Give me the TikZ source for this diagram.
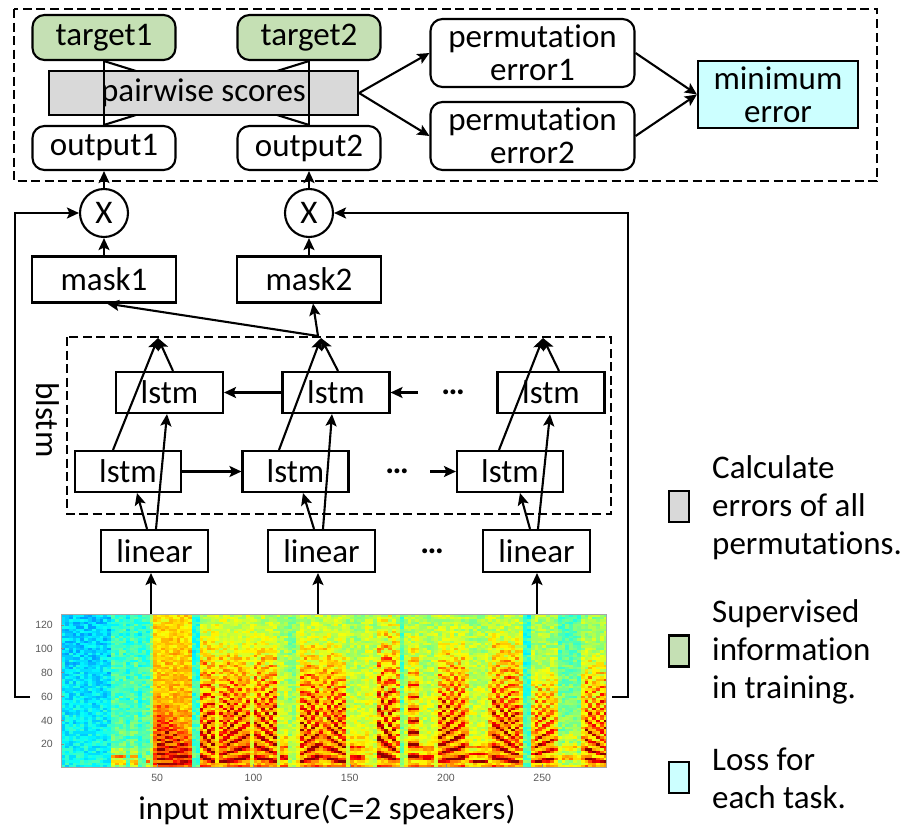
\documentclass[tikz,border=0pt]{standalone}
\usepackage{fontspec}
\setmainfont{Carlito}[Ligatures={NoCommon,NoContextual}]
\newfontfamily\ticksf{Liberation Sans}
\usetikzlibrary{arrows.meta,calc}

\definecolor{tgtgreen}{HTML}{C5E0B4}
\definecolor{scoregray}{HTML}{D9D9D9}
\definecolor{losscyan}{HTML}{CCFFFF}

\newcommand\dfont{\fontsize{33}{33}\selectfont}
\newcommand\legfont{\fontsize{33}{38}\selectfont}
\newcommand\tickfont{\ticksf\fontsize{10.5}{12}\selectfont}

% spectrogram segments:
% t0/t1/background/strength/harmonic spacing/spacing slope/top frequency/top-frequency fall
\def\speclist{0/26/0.39/0/10/0/50/0, 26/34/0.48/0.4/5/0/20/0, 34/36/0.45/0/10/0/50/0,
 36/41/0.49/0.38/5/0/20/0, 41/43/0.45/0/10/0/50/0, 43/46/0.48/0.45/6/0/12/0,
 46/48/0.55/0/10/0/50/0, 48/69/0.72/0.36/4.6/0.4/75/0.7, 69/72/0.46/0/10/0/50/0,
 72/81/0.63/0.42/8/-0.6/120/0, 81/99/0.65/0.40/7.5/0.6/110/0.1, 99/113/0.63/0.40/8/-0.5/115/0,
 113/119/0.60/0.38/9/0/30/0, 119/123/0.56/0/10/0/50/0, 123/136/0.63/0.42/8/0.6/115/0,
 136/149/0.63/0.42/7.5/-0.5/120/0.2, 149/158/0.60/0.38/9/0/30/0, 158/163/0.63/0/10/0/50/0,
 163/176/0.60/0.46/10/-0.7/140/0, 176/179/0.50/0/10/0/50/0, 179/186/0.60/0.42/10/0/120/0,
 186/195/0.60/0.35/9/0/26/0, 195/212/0.62/0.42/8/0.5/115/0, 212/222/0.60/0.38/6/0/24/0,
 222/240/0.62/0.42/7.5/-0.7/120/0, 240/244/0.47/0/10/0/50/0, 244/258/0.60/0.42/7/0.4/85/0,
 258/270/0.52/0.25/9/0/35/0, 270/285/0.60/0.42/7/-0.5/100/0}

\begin{document}
\begin{tikzpicture}[x=1pt,y=-1pt,
  every node/.style={font=\dfont, inner sep=0pt},
  plainbox/.style={draw, line width=2.1pt},
  roundbox/.style={plainbox, rounded corners=12pt},
  link/.style={line width=2.1pt},
  arr/.style={line width=2.1pt, -{Stealth[length=12pt,width=11pt,inset=2.5pt]}},
  dashbox/.style={line width=2.1pt, dash pattern=on 9pt off 4.5pt},
  mult/.style={draw, circle, line width=2.1pt, minimum size=48pt},
  legbox/.style={plainbox, minimum width=20pt, minimum height=31pt},
  tick/.style={font=\tickfont, text=black!65}]
\useasboundingbox (0,0) rectangle (906,835);

% ---------- jet colour table ----------
\foreach \i in {0,...,47}{
  \pgfmathsetmacro\vv{(\i+0.5)/48}
  \pgfmathsetmacro\cR{max(0,min(1,1.5-abs(4*\vv-3)))}
  \pgfmathsetmacro\cG{max(0,min(1,1.5-abs(4*\vv-2)))}
  \pgfmathsetmacro\cB{max(0,min(1,1.5-abs(4*\vv-1)))}
  \xglobal\definecolor{jet\i}{rgb}{\cR,\cG,\cB}
}

% ---------- spectrogram ----------
\pgfmathsetseed{7}
\begin{scope}
\clip (61,614) rectangle (606,767);
\foreach \col in {0,...,141}{
  \pgfmathsetmacro\colt{2*\col+1}
  \foreach \ta/\tb/\tbg/\ts/\tp/\tk/\tF/\tfall in \speclist{
    \ifdim\colt pt<\ta pt\relax\else\ifdim\colt pt<\tb pt\relax
      \xdef\Sa{\ta}\xdef\Sb{\tb}\xdef\Sbg{\tbg}\xdef\Ss{\ts}%
      \xdef\Sp{\tp}\xdef\Sk{\tk}\xdef\SF{\tF}\xdef\Sfall{\tfall}%
    \fi\fi
  }
  \pgfmathsetmacro\uu{(\colt-\Sa)/(\Sb-\Sa)}
  \pgfmathsetmacro\EE{\Ss*min(1,2.5*sin(180*\uu))}
  \pgfmathsetmacro\QQ{360/(\Sp*(1+\Sk*(\uu-0.5)))}
  \pgfmathsetmacro\FF{\SF*(1-\Sfall*\uu)}
  \pgfmathsetmacro\xx{61+3.85*\col}
  \foreach \ff in {2,4,...,128}{
    \ifdim\EE pt>0pt
      \pgfmathsetmacro\hh{0.5+0.5*cos(\QQ*\ff)}
      \pgfmathtruncatemacro\lv{max(0,min(47,48*(\Sbg-0.0005*\ff+0.12*(rnd-0.5)+\EE*(0.15+0.85*\hh*\hh)*max(0,1-(\ff/\FF)*(\ff/\FF)))))}
    \else
      \pgfmathtruncatemacro\lv{max(0,min(47,48*(\Sbg-0.0005*\ff+0.12*(rnd-0.5))))}
    \fi
    \fill[jet\lv] (\xx,{767.3-1.195*(\ff-2)}) rectangle ++(4.3,-2.8);
  }
}
\end{scope}
\node[draw=black!35, line width=0.5pt, minimum width=545pt, minimum height=153pt] (spec) at (333.5,690.5) {};

% axis ticks and labels
\foreach \f in {20,40,...,120}{
  \draw[black!45, line width=0.4pt] (61,{767-1.195*(\f-1)}) -- ++(3,0);
  \node[tick, anchor=east] (yl\f) at (53,{767-1.195*(\f-1)}) {\f};
}
\foreach \t in {50,100,...,250}{
  \draw[black!45, line width=0.4pt] ({61+1.925*\t},767) -- ++(0,-3);
  \node[tick] (xl\t) at ({61+1.925*\t},778) {\t};
}
\node (cap) at (327,810) {input mixture(C=2 speakers)};

% ---------- permutation-invariant training block ----------
\draw[dashbox] (14,9) rectangle (877,181);
\node[roundbox, fill=tgtgreen, minimum width=143pt, minimum height=45pt] (t1) at (104,37.5) {target1};
\node[roundbox, fill=tgtgreen, minimum width=143pt, minimum height=45pt] (t2) at (309,37.5) {target2};
\node[roundbox, minimum width=143pt, minimum height=44pt] (o1) at (104,148) {output1};
\node[roundbox, minimum width=143pt, minimum height=44pt] (o2) at (309,148) {output2};
\draw[link] (t1.south) -- (o2.north);
\draw[link] (t2.south) -- (o1.north);
\node[plainbox, fill=scoregray, minimum width=309pt, minimum height=44pt] (pw) at (203.5,93) {pairwise scores};
\draw[link] (t1.south) -- (o1.north);
\draw[link] (t2.south) -- (o2.north);

\node[roundbox, align=center, minimum width=204pt, minimum height=68pt] (p1) at (532.5,53) {permutation\\error1};
\node[roundbox, align=center, minimum width=204pt, minimum height=68pt] (p2) at (532.5,136) {permutation\\error2};
\node[plainbox, fill=losscyan, align=center, minimum width=160pt, minimum height=67pt] (me) at (778,94.5) {minimum\\error};
\draw[arr] (pw.east) -- (p1.west);
\draw[arr] (pw.east) -- (p2.west);
\draw[arr] (p1.east) -- (me.west);
\draw[arr] (p2.east) -- (me.west);

% ---------- masking ----------
\node[mult] (m1) at (104,213) {X};
\node[mult] (m2) at (309,213) {X};
\node[plainbox, minimum width=144pt, minimum height=46pt] (k1) at (104,279.5) {mask1};
\node[plainbox, minimum width=144pt, minimum height=46pt] (k2) at (309,279.5) {mask2};
\draw[arr] (m1) -- (o1);
\draw[arr] (m2) -- (o2);
\draw[arr] (k1) -- (m1);
\draw[arr] (k2) -- (m2);
\coordinate (J) at (318,336);
\draw[arr] (J) -- ([xshift=3pt]k1.south);
\draw[arr] (J) -- ([xshift=4pt]k2.south);

% mixture fed back to the multipliers
\coordinate (fbL) at (30,697);
\coordinate (fbR) at (612,697);
\draw[arr] (fbL) -- (15,697) |- (m1);
\draw[arr] (fbR) -- (628,697) |- (m2);

% ---------- bidirectional lstm ----------
\draw[dashbox] (67,337) rectangle (611,514);
\node[rotate=-90] (bl) at (48,420) {blstm};

\node[plainbox, minimum width=107pt, minimum height=41pt] (u1) at (169.5,392.5) {lstm};
\node[plainbox, minimum width=107pt, minimum height=41pt] (u2) at (336,392.5) {lstm};
\node[plainbox, minimum width=107pt, minimum height=41pt] (u3) at (551,392.5) {lstm};
\node[plainbox, minimum width=106pt, minimum height=41pt] (l1) at (128,471.5) {lstm};
\node[plainbox, minimum width=106pt, minimum height=41pt] (l2) at (295.5,471.5) {lstm};
\node[plainbox, minimum width=106pt, minimum height=41pt] (l3) at (510,471.5) {lstm};
\node[plainbox, minimum width=107pt, minimum height=42pt] (n1) at (154.5,551) {linear};
\node[plainbox, minimum width=107pt, minimum height=42pt] (n2) at (321.5,551) {linear};
\node[plainbox, minimum width=107pt, minimum height=42pt] (n3) at (536.5,551) {linear};

\node (du) at (453,392) {\bfseries …};
\node (dl) at (397,471) {\bfseries …};
\node (dn) at (432,551) {\bfseries …};

\coordinate (T1) at (158,338);
\coordinate (T2) at (321,338);
\coordinate (T3) at (543,338);
\draw[arr] ([xshift=-15pt]l1.north) -- (T1);
\draw[arr] ([xshift=3.5pt]u1.north) -- (T1);
\draw[arr] ([xshift=-16.5pt]l2.north) -- (T2);
\draw[arr] ([xshift=2pt]u2.north) -- (T2);
\draw[arr] ([xshift=-11pt]l3.north) -- (T3);
\draw[arr] ([xshift=8pt]u3.north) -- (T3);

\draw[arr] ([xshift=-7.5pt]n1.north) -- ([xshift=9pt]l1.south);
\draw[arr] ([xshift=1.5pt]n1.north) -- ([xshift=-2.5pt]u1.south);
\draw[arr] ([xshift=-7.5pt]n2.north) -- ([xshift=7.5pt]l2.south);
\draw[arr] ([xshift=1.5pt]n2.north) -- ([xshift=-4pt]u2.south);
\draw[arr] ([xshift=-6.5pt]n3.north) -- ([xshift=10pt]l3.south);
\draw[arr] ([xshift=1.5pt]n3.north) -- ([xshift=-1pt]u3.south);

\draw[arr] (u2.west) -- (u1.east);
\draw[arr] (l1.east) -- (l2.west);
\coordinate (ua) at (418,392.5);
\coordinate (la) at (430,471.5);
\draw[arr] (ua) -- (u2.east);
\draw[arr] (la) -- (l3.west);

\draw[arr] ($(n1.south |- spec.north)+(-3.5,0)$) -- ([xshift=-3.5pt]n1.south);
\draw[arr] ($(n2.south |- spec.north)+(-3.5,0)$) -- ([xshift=-3.5pt]n2.south);
\draw[arr] ($(n3.south |- spec.north)+(0.5,0)$) -- ([xshift=0.5pt]n3.south);

% ---------- legend ----------
\node[legbox, fill=scoregray] (g1) at (679,506.5) {};
\node[legbox, fill=tgtgreen] (g2) at (679,651) {};
\node[legbox, fill=losscyan] (g3) at (679,777.5) {};
\node[anchor=west, align=left, font=\legfont] (gt1) at (712,508) {Calculate\\errors of all\\permutations.};
\node[anchor=west, align=left, font=\legfont] (gt2) at (712,652) {Supervised\\information\\in training.};
\node[anchor=west, align=left, font=\legfont] (gt3) at (712,778) {Loss for\\each task.};
\end{tikzpicture}
\end{document}
